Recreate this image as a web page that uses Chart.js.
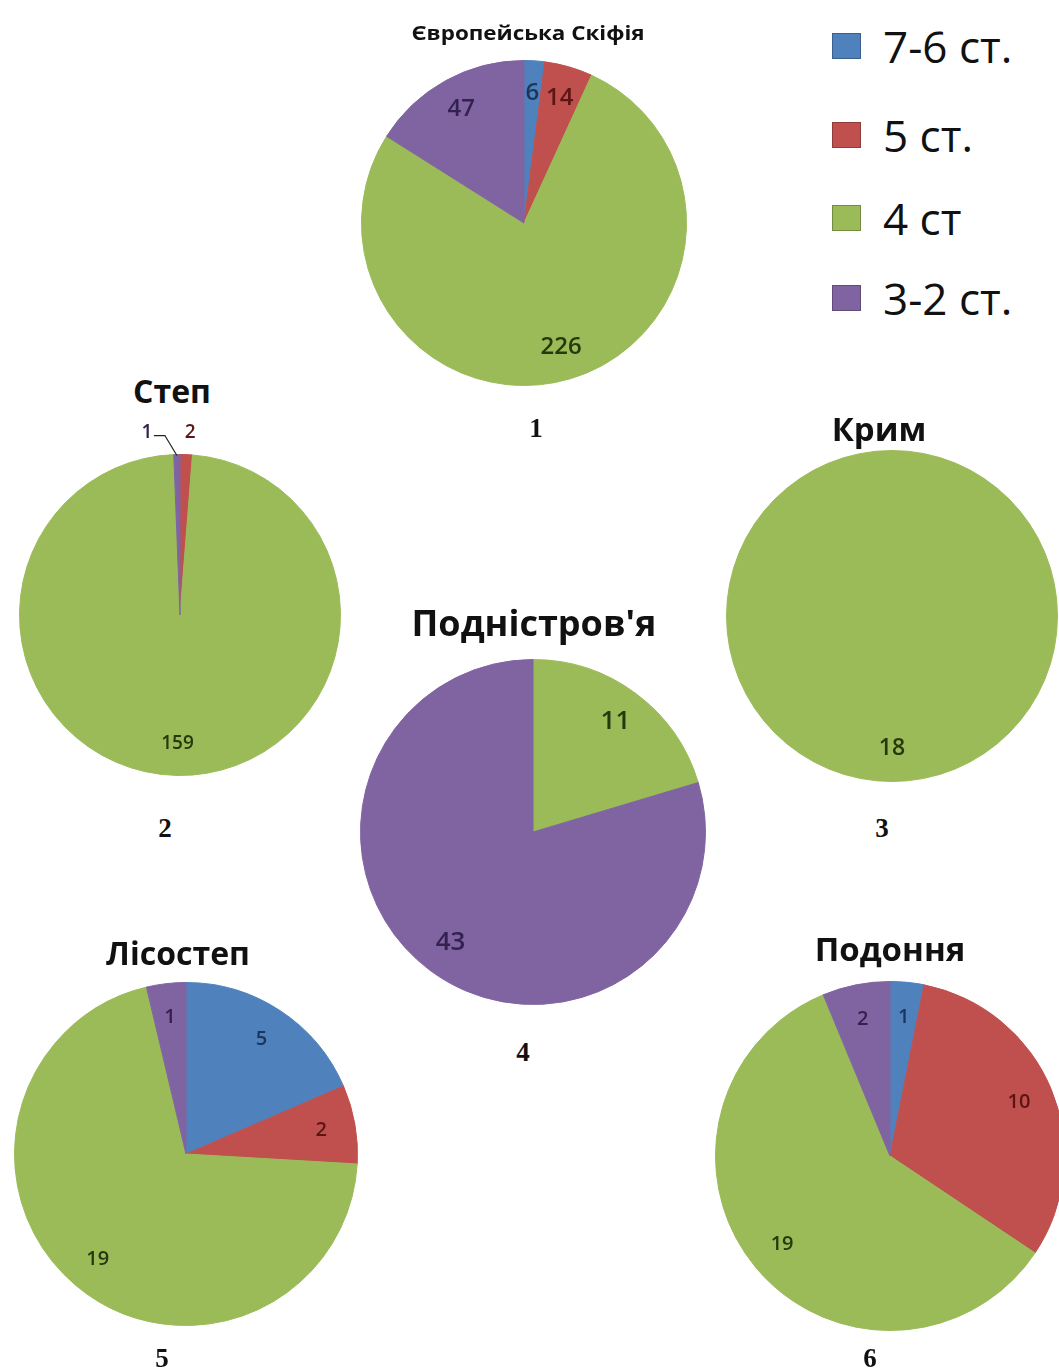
<!DOCTYPE html>
<html>
<head>
<meta charset="utf-8">
<script src="https://cdn.jsdelivr.net/npm/chart.js@4.4.1/dist/chart.umd.min.js"></script>
<style>
  html, body { margin: 0; padding: 0; background: #fff; }
  body { width: 1059px; height: 1372px; position: relative; overflow: hidden; font-family: "Open Sans", sans-serif; }
  .pie { position: absolute; }
  .title { position: absolute; font-weight: bold; color: #111; white-space: nowrap; transform: translate(-50%, -50%); }
  .num { position: absolute; font-family: "Liberation Serif", serif; font-weight: bold; font-size: 27px; color: #111; transform: translate(-50%, -50%); }
  #legend { position: absolute; left: 832px; top: 20px; }
  .leg-row { position: absolute; left: 0; height: 44px; display: flex; align-items: center; white-space: nowrap; font-size: 44px; color: #111; }
  .leg-box { width: 29px; height: 26px; margin-right: 22px; box-sizing: border-box; border: 1px solid rgba(0,0,0,0.25); }
</style>
</head>
<body>
<div id="legend"></div>
<script>
// centuries shown in every pie, in drawing order
const categories = ['7-6 ст.', '5 ст.', '4 ст', '3-2 ст.'];
const regions = ['Європейська Скіфія', 'Степ', 'Крим', "Подністров'я", 'Лісостеп', 'Подоння'];
const panelNumbers = ['1', '2', '3', '4', '5', '6'];

// finds per region, same order as categories
const skifiya = [6, 14, 226, 47];
const step = [0, 2, 159, 1];
const krym = [0, 0, 18, 0];
const podnistrovya = [0, 0, 11, 43];
const lisostep = [5, 2, 19, 1];
const podonnya = [1, 10, 19, 2];
const seriesByRegion = [skifiya, step, krym, podnistrovya, lisostep, podonnya];

const fillColors = ['#4f81bd', '#c0504d', '#9bbb59', '#8064a2'];
const textColors = ['#1c3559', '#5a1514', '#27380d', '#33214f'];

// where each pie sits on the page
const panels = [
  { cx: 524, cy: 223, r: 163, titleX: 528, titleY: 32, titleSize: 20, titleStretch: 1.12, numX: 536, numY: 428, labelSize: 24 },
  { cx: 180, cy: 615, r: 161, titleX: 172, titleY: 390, titleSize: 32, numX: 165, numY: 828, labelSize: 19, outside: true },
  { cx: 892, cy: 616, r: 166, titleX: 879, titleY: 428, titleSize: 33, numX: 882, numY: 828, labelSize: 23 },
  { cx: 533, cy: 832, r: 173, titleX: 534, titleY: 622, titleSize: 36, numX: 523, numY: 1052, labelSize: 26 },
  { cx: 186, cy: 1154, r: 172, titleX: 178, titleY: 952, titleSize: 32, numX: 162, numY: 1358, labelSize: 20 },
  { cx: 890, cy: 1156, r: 175, titleX: 890, titleY: 948, titleSize: 33, numX: 870, numY: 1358, labelSize: 20 }
];
const PAD = 30;

// legend
const legend = document.getElementById('legend');
categories.forEach((c, i) => {
  const row = document.createElement('div');
  row.className = 'leg-row';
  row.style.top = [4, 93, 176, 256][i] + 'px';
  row.innerHTML = '<span class="leg-box" style="background:' + fillColors[i] + '"></span>' + c;
  legend.appendChild(row);
});

// value labels drawn on top of the slices
const sliceLabels = {
  id: 'sliceLabels',
  afterDatasetsDraw(chart, args, opts) {
    const ctx = chart.ctx;
    const values = chart.data.datasets[0].data;
    const total = values.reduce((a, b) => a + b, 0);
    const arcs = chart.getDatasetMeta(0).data;
    ctx.save();
    ctx.font = '600 ' + opts.size + 'px "Open Sans", sans-serif';
    ctx.textAlign = 'center';
    ctx.textBaseline = 'middle';
    arcs.forEach((arc, i) => {
      if (!values[i]) return;
      const p = arc.getProps(['x', 'y', 'startAngle', 'endAngle', 'outerRadius'], true);
      const mid = (p.startAngle + p.endAngle) / 2;
      ctx.fillStyle = textColors[i];
      if (opts.outside && values[i] / total < 0.05) {
        // tiny slices get their numbers above the rim
        const ex = p.x + Math.cos(mid) * p.outerRadius;
        const ey = p.y + Math.sin(mid) * p.outerRadius;
        const shift = Math.cos(mid) < 0 ? -30 : 4;
        const tx = ex + shift;
        const ty = ey - 22;
        ctx.fillText(values[i], tx, ty);
        if (shift < 0) {
          ctx.strokeStyle = '#222';
          ctx.lineWidth = 1.2;
          ctx.beginPath();
          ctx.moveTo(tx + 7, ty + 3);
          ctx.lineTo(tx + 18, ty + 3);
          ctx.lineTo(ex, ey + 1);
          ctx.stroke();
        }
      } else {
        const rr = p.outerRadius * 0.8;
        ctx.fillText(values[i], p.x + Math.cos(mid) * rr, p.y + Math.sin(mid) * rr);
      }
    });
    ctx.restore();
  }
};

panels.forEach((pnl, k) => {
  const size = pnl.r * 2 + 2 * PAD;
  const canvas = document.createElement('canvas');
  canvas.className = 'pie';
  canvas.width = size;
  canvas.height = size;
  canvas.style.left = (pnl.cx - size / 2) + 'px';
  canvas.style.top = (pnl.cy - size / 2) + 'px';
  canvas.style.width = size + 'px';
  canvas.style.height = size + 'px';
  document.body.appendChild(canvas);

  const title = document.createElement('div');
  title.className = 'title';
  title.style.left = pnl.titleX + 'px';
  title.style.top = pnl.titleY + 'px';
  title.style.fontSize = pnl.titleSize + 'px';
  if (pnl.titleStretch) title.style.transform = 'translate(-50%, -50%) scaleX(' + pnl.titleStretch + ')';
  title.textContent = regions[k];
  document.body.appendChild(title);

  const num = document.createElement('div');
  num.className = 'num';
  num.style.left = pnl.numX + 'px';
  num.style.top = pnl.numY + 'px';
  num.textContent = panelNumbers[k];
  document.body.appendChild(num);

  new Chart(canvas, {
    type: 'pie',
    data: {
      labels: categories,
      datasets: [{
        data: seriesByRegion[k],
        backgroundColor: fillColors,
        borderColor: fillColors,
        borderWidth: c => (c.raw ? 1 : 0)
      }]
    },
    options: {
      responsive: false,
      animation: false,
      layout: { padding: PAD },
      plugins: {
        legend: { display: false },
        tooltip: { enabled: false },
        sliceLabels: { size: pnl.labelSize, outside: !!pnl.outside }
      }
    },
    plugins: [sliceLabels]
  });
});
</script>
</body>
</html>
